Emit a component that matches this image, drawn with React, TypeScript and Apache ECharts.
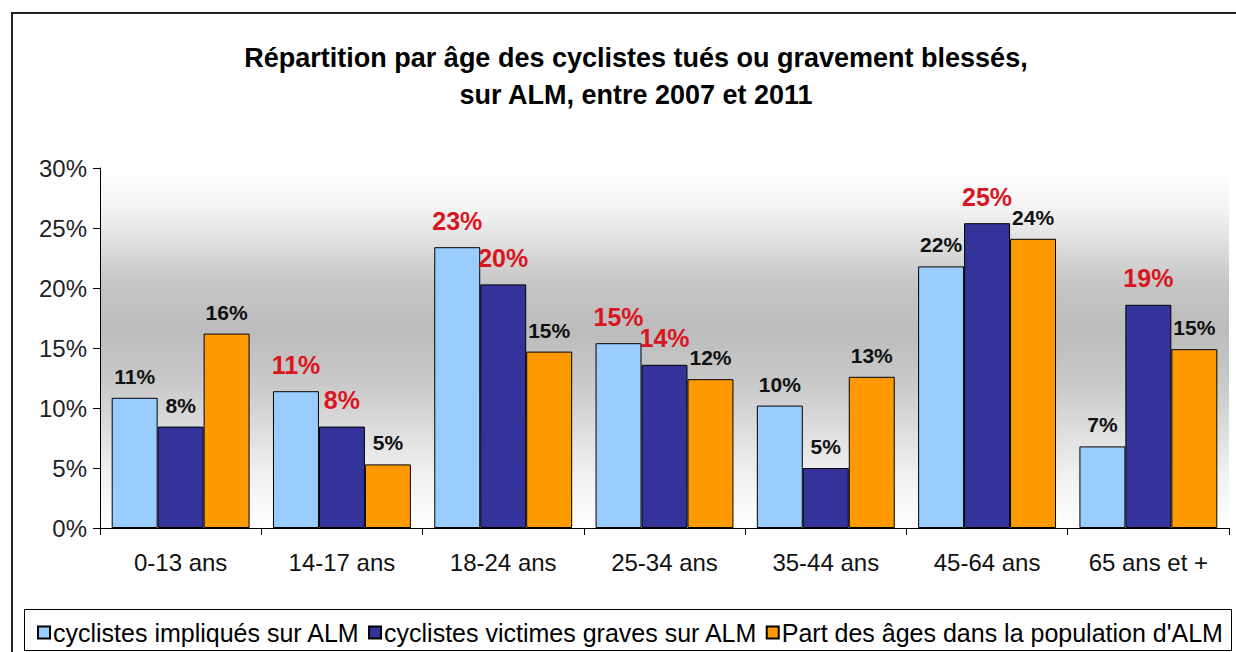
import React, { useEffect, useRef } from "react";
import * as echarts from "echarts";

const categories = ["0-13 ans", "14-17 ans", "18-24 ans", "25-34 ans", "35-44 ans", "45-64 ans", "65 ans et +"];
const seriesNames = [
  "cyclistes impliqués sur ALM",
  "cyclistes victimes graves sur ALM",
  "Part des âges dans la population d'ALM",
];
const impliques = [10.85, 11.4, 23.4, 15.4, 10.2, 21.8, 6.8];
const victimes = [8.45, 8.45, 20.3, 13.6, 5.0, 25.4, 18.6];
const population = [16.2, 5.3, 14.7, 12.4, 12.6, 24.1, 14.9];
const redImpliques = [false, true, true, true, false, false, false];
const redVictimes = [false, true, true, true, false, true, true];
const redPopulation = [false, false, false, false, false, false, false];
const yTicks = [0, 5, 10, 15, 20, 25, 30];
const titleLines = ["Répartition par âge des cyclistes tués ou gravement blessés,", "sur ALM, entre 2007 et 2011"];

const FONT = "'Liberation Sans', Arial, sans-serif";
const colors = ["#99CCFF", "#333399", "#FF9900"];

function makeData(values: number[], red: boolean[]) {
  return values.map((v, i) => ({
    value: v,
    label: red[i]
      ? { color: "#d9161f", fontSize: 25, fontWeight: "bold", distance: 14 }
      : { color: "#111", fontSize: 21, fontWeight: "bold", distance: 11 },
  }));
}

export default function App() {
  const ref = useRef<HTMLDivElement>(null);
  useEffect(() => {
    if (!ref.current) return;
    const chart = echarts.init(ref.current, undefined, { renderer: "svg" });
    const valuesList = [impliques, victimes, population];
    const redList = [redImpliques, redVictimes, redPopulation];
    chart.setOption({
      animation: false,
      backgroundColor: "#ffffff",
      textStyle: { fontFamily: FONT },
      title: {
        text: titleLines.join("\n"),
        left: 631,
        top: 34,
        textAlign: "center",
        textStyle: { fontFamily: FONT, fontSize: 27, fontWeight: "bold", color: "#000", lineHeight: 37 },
      },
      legend: {
        left: 32,
        top: 615,
        itemWidth: 12,
        itemHeight: 12,
        itemGap: 8,
        icon: "rect",
        data: seriesNames,
        textStyle: { fontFamily: FONT, fontSize: 25, color: "#000", padding: [0, 0, 0, -2] },
      },
      grid: {
        left: 100,
        right: 7,
        top: 168,
        bottom: 124,
        show: true,
        borderWidth: 0,
        backgroundColor: new echarts.graphic.LinearGradient(0, 0, 0, 1, [
          { offset: 0, color: "#ffffff" },
          { offset: 0.12, color: "#f2f2f2" },
          { offset: 0.32, color: "#c6c6c6" },
          { offset: 0.45, color: "#bcbcbc" },
          { offset: 0.6, color: "#c9c9c9" },
          { offset: 0.85, color: "#f0f0f0" },
          { offset: 1, color: "#ffffff" },
        ]),
      },
      xAxis: {
        type: "category",
        data: categories,
        axisLine: { show: true, lineStyle: { color: "#000", width: 1 } },
        axisTick: { show: true, length: 7, lineStyle: { color: "#000" } },
        axisLabel: { fontFamily: FONT, fontSize: 24, color: "#111", margin: 22 },
        splitLine: { show: false },
      },
      yAxis: {
        type: "value",
        min: yTicks[0],
        max: yTicks[yTicks.length - 1],
        interval: 5,
        axisLine: { show: true, lineStyle: { color: "#000", width: 1 } },
        axisTick: { show: true, length: 7, lineStyle: { color: "#000" } },
        axisLabel: { fontFamily: FONT, fontSize: 24, color: "#222", margin: 13, formatter: "{value}%" },
        splitLine: { show: false },
      },
      series: seriesNames.map((name, s) => ({
        name,
        type: "bar",
        barGap: "0%",
        barCategoryGap: "14.5%",
        itemStyle: { color: colors[s], borderColor: "#000", borderWidth: 1 },
        label: {
          show: true,
          position: "top",
          fontFamily: FONT,
          formatter: (p: any) => Math.round(p.value) + "%",
        },
        data: makeData(valuesList[s], redList[s]),
      })),
      graphic: [
        {
          type: "polyline",
          shape: { points: [[12, 700], [12, 13], [1300, 13]] },
          style: { stroke: "#222", lineWidth: 2, fill: null },
          silent: true,
        },
        {
          type: "rect",
          shape: { x: 24.5, y: 609.5, width: 1207, height: 41 },
          style: { stroke: "#000", lineWidth: 1, fill: null },
          silent: true,
          z: -1,
        },
      ],
    });
    return () => chart.dispose();
  }, []);
  return <div ref={ref} style={{ position: "fixed", left: 0, top: 0, width: 1236, height: 652 }} />;
}
